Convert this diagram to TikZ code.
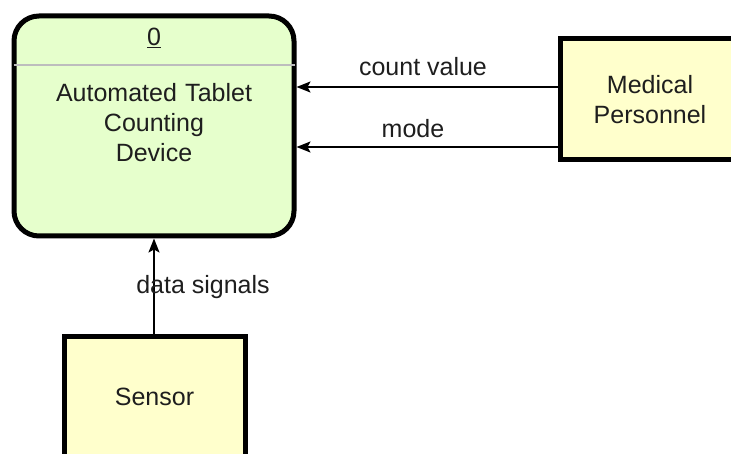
\documentclass[tikz,border=0pt]{standalone}
\usepackage{fontspec}
\setmainfont{Liberation Sans}
\usetikzlibrary{arrows.meta}
\definecolor{procfill}{HTML}{E6FFCC}
\definecolor{extfill}{HTML}{FFFFCC}
\definecolor{ink}{HTML}{1E1E1E}
\definecolor{divider}{HTML}{BDBDBD}
\tikzset{
  txt/.style={font=\fontsize{25}{30}\selectfont, text=ink, inner sep=0pt, align=center},
  procbox/.style={draw=black, fill=procfill, line width=5pt, rounded corners=25pt},
  extbox/.style={draw=black, fill=extfill, line width=5pt},
  flow/.style={draw=black, line width=2pt, -{Stealth[length=14pt,width=11pt,inset=3pt]}},
}
\begin{document}
\begin{tikzpicture}[x=1pt,y=-1pt]
  \useasboundingbox (0,0) rectangle (731,454);
  \clip (0,0) rectangle (731,454);
  % process
  \node[procbox, minimum width=280pt, minimum height=220pt] (proc) at (154,126) {};
  \draw[divider, line width=2pt] (proc.north west |- 0,65) ++(2,0) coordinate (dl)
        (proc.north east |- 0,65) ++(-2,0) coordinate (dr);
  \draw[divider, line width=2pt] (dl) -- (dr);
  \node[txt] (pid) at (154,38) {\underline{0}};
  \node[txt, text width=260pt] (pname) at (154,123) {Automated Tablet\\Counting\\Device};
  % external entities
  \node[extbox, minimum width=180pt, minimum height=121pt] (med) at (650,99.5) {};
  \node[txt] (medtxt) at (650,100) {Medical\\Personnel};
  \node[extbox, minimum width=181pt, minimum height=120pt] (sen) at (154.5,397) {};
  \node[txt] (sentxt) at (154.5,397) {Sensor};
  % data flows
  \draw[flow] (med.west |- 0,87) -- (proc.east |- 0,87);
  \draw[flow] (med.west |- 0,147) -- (proc.east |- 0,147);
  \draw[flow] (sen.north -| 154,0) -- (proc.south -| 154,0);
  \node[txt] (lcount) at (423,67) {count value};
  \node[txt] (lmode) at (413,129) {mode};
  \node[txt] (ldata) at (203,287) {data signals};
\end{tikzpicture}
\end{document}
